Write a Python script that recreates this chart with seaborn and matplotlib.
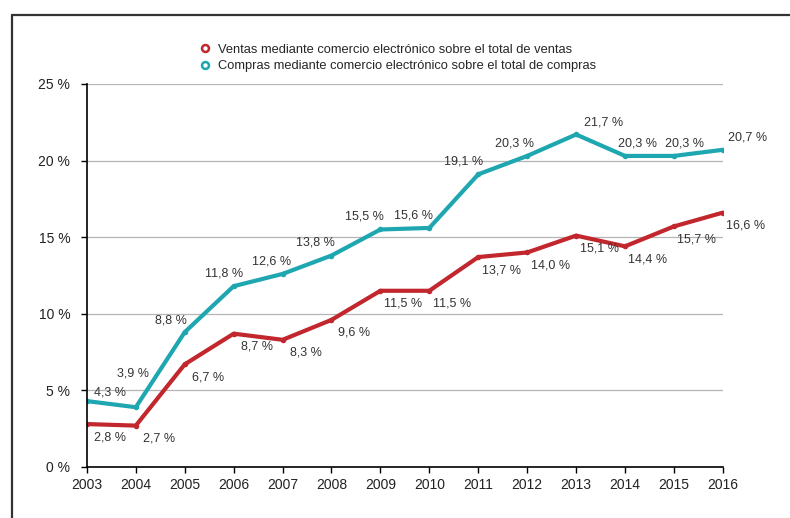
import pandas as pd
import seaborn as sns
from matplotlib import pyplot as plt
from matplotlib.lines import Line2D

# data
years = [2003, 2004, 2005, 2006, 2007, 2008, 2009, 2010, 2011, 2012, 2013, 2014, 2015, 2016]
ventas = [2.8, 2.7, 6.7, 8.7, 8.3, 9.6, 11.5, 11.5, 13.7, 14.0, 15.1, 14.4, 15.7, 16.6]
compras = [4.3, 3.9, 8.8, 11.8, 12.6, 13.8, 15.5, 15.6, 19.1, 20.3, 21.7, 20.3, 20.3, 20.7]

serie_ventas = "Ventas mediante comercio electrónico sobre el total de ventas"
serie_compras = "Compras mediante comercio electrónico sobre el total de compras"
y_ticks = [0, 5, 10, 15, 20, 25]

RED = "#c1272d"
TEAL = "#1fa7b1"

df = pd.DataFrame({
    "year": years * 2,
    "value": ventas + compras,
    "serie": [serie_ventas] * len(years) + [serie_compras] * len(years),
})

sns.set_style("white")
plt.rcParams["font.family"] = ["Liberation Sans", "DejaVu Sans"]

fig = plt.figure(figsize=(7.9, 5.18), dpi=100)
ax = fig.add_axes([0.110, 0.0985, 0.805, 0.7395])

sns.lineplot(data=df, x="year", y="value", hue="serie",
             palette={serie_ventas: RED, serie_compras: TEAL},
             linewidth=3.0, marker="o", markersize=4, markeredgewidth=0,
             legend=False, ax=ax)

ax.set_xlim(2003, 2016)
ax.set_ylim(0, 25)
ax.set_xticks(years)
ax.set_xticklabels([str(y) for y in years], fontsize=10, color="#222222")
ax.set_yticks(y_ticks)
ax.set_yticklabels([f"{t} %" for t in y_ticks], fontsize=10, color="#222222")
ax.set_xlabel("")
ax.set_ylabel("")
ax.tick_params(axis="both", direction="out", length=4, width=1, color="black",
               bottom=True, left=True, pad=4)
ax.tick_params(axis="y", pad=8)

for t in y_ticks[1:]:
    ax.axhline(t, color="#b5b5b5", linewidth=0.9, zorder=0)

for s in ["top", "right"]:
    ax.spines[s].set_visible(False)
ax.spines["left"].set_color("black")
ax.spines["bottom"].set_color("black")
ax.spines["left"].set_linewidth(1.2)
ax.spines["bottom"].set_linewidth(1.2)

# label offsets (pixels)
off_ventas = [(23, -13)] * len(years)
off_compras = [(23, 9), (-3, 34), (-14, 12), (-10, 13), (-11, 12), (-16, 13), (-16, 13),
               (-16, 12), (-15, 13), (-13, 12), (27, 12), (12, 12), (11, 12), (25, 12)]

for x, v, o in zip(years, ventas, off_ventas):
    ax.annotate(f"{v:.1f} %".replace(".", ","), (x, v), xytext=o,
                textcoords="offset pixels", ha="center", va="center",
                fontsize=9, color="#333333")
for x, v, o in zip(years, compras, off_compras):
    ax.annotate(f"{v:.1f} %".replace(".", ","), (x, v), xytext=o,
                textcoords="offset pixels", ha="center", va="center",
                fontsize=9, color="#333333")

handles = [
    Line2D([], [], linestyle="none", marker="o", markersize=5, markerfacecolor="white",
           markeredgecolor=RED, markeredgewidth=1.8, label=serie_ventas),
    Line2D([], [], linestyle="none", marker="o", markersize=5, markerfacecolor="white",
           markeredgecolor=TEAL, markeredgewidth=1.8, label=serie_compras),
]
fig.legend(handles=handles, loc="upper left", bbox_to_anchor=(0.245, 0.928),
           frameon=False, fontsize=9.3, handlelength=0.8, handletextpad=0.6,
           labelspacing=0.35, borderpad=0)

# outer frame (top and left edges)
fig.add_artist(Line2D([12 / 790, 1.0], [1 - 15 / 518, 1 - 15 / 518],
                      transform=fig.transFigure, color="#333333", linewidth=1.6))
fig.add_artist(Line2D([12 / 790, 12 / 790], [0, 1 - 15 / 518],
                      transform=fig.transFigure, color="#333333", linewidth=1.6))

fig.savefig("out.png", dpi=100)
